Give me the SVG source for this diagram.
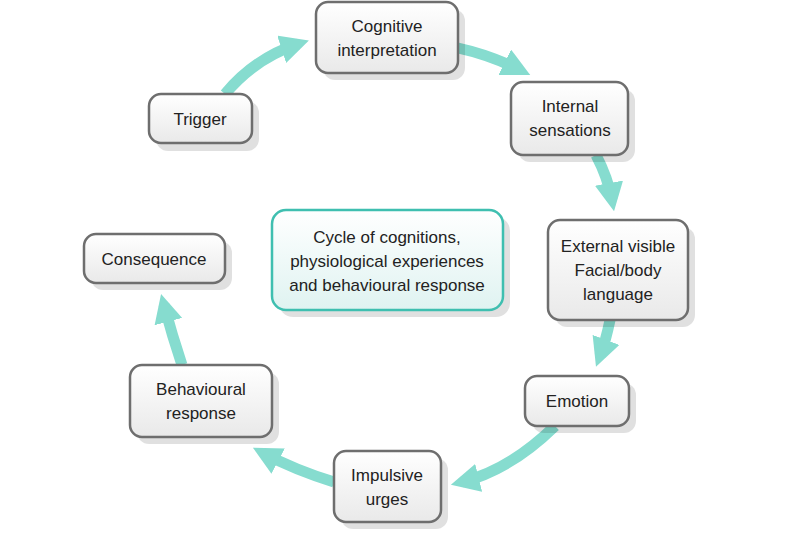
<svg xmlns="http://www.w3.org/2000/svg" width="800" height="533" viewBox="0 0 800 533">
<defs>
<linearGradient id="g" x1="0" y1="0" x2="0" y2="1"><stop offset="0" stop-color="#ffffff"/><stop offset="1" stop-color="#e9e9e9"/></linearGradient>
<linearGradient id="gc" x1="0" y1="0" x2="0" y2="1"><stop offset="0" stop-color="#ffffff"/><stop offset="1" stop-color="#dff3f1"/></linearGradient>
<marker id="ah" viewBox="0 0 10 10" refX="6" refY="5" markerWidth="2.6" markerHeight="2.6" orient="auto" markerUnits="strokeWidth"><path d="M0,0 L10,5 L0,10 Z" fill="#86dccf"/></marker>
</defs>
<style>
.sh{fill:#000;opacity:0.12}
.b{fill:url(#g);stroke:#6e6e6e;stroke-width:2.5}
.t{font-family:"Liberation Sans",Arial,sans-serif;font-size:17px;fill:#222;text-anchor:middle}
.c{fill:none;stroke:#86dccf;stroke-width:11}
</style>
<rect width="800" height="533" fill="#fff"/>
<g id="connectors">
<path class="c" d="M225,94 Q255,58 298,44" marker-end="url(#ah)"/>
<path class="c" d="M458,48 Q490,55 520,70" marker-end="url(#ah)"/>
<path class="c" d="M596,155 Q608,178 612,200" marker-end="url(#ah)"/>
<path class="c" d="M610,320 Q606,340 600,356" marker-end="url(#ah)"/>
<path class="c" d="M555,426 Q510,470 462,482" marker-end="url(#ah)"/>
<path class="c" d="M334,482 Q295,470 263,453" marker-end="url(#ah)"/>
<path class="c" d="M182,365 Q172,335 164,305" marker-end="url(#ah)"/>
</g>
<g id="center"><rect x="279" y="217" width="231" height="100" rx="14" class="sh"/><rect x="272" y="210" width="231" height="100" rx="14" fill="url(#gc)" stroke="#3fbfb0" stroke-width="2.5"/>
<text class="t" x="387" y="243">Cycle of cognitions,</text><text class="t" x="387" y="267">physiological experiences</text><text class="t" x="387" y="291">and behavioural response</text></g>
<g id="trigger"><rect x="156" y="101" width="103" height="50" rx="12" class="sh"/><rect x="149" y="94" width="103" height="49" rx="12" class="b"/><text class="t" x="200" y="125">Trigger</text></g>
<g id="cognitive"><rect x="323" y="9" width="142" height="71" rx="12" class="sh"/><rect x="316" y="2" width="142" height="71" rx="12" class="b"/><text class="t" x="387" y="32">Cognitive</text><text class="t" x="387" y="56">interpretation</text></g>
<g id="internal"><rect x="518" y="89" width="117" height="73" rx="12" class="sh"/><rect x="511" y="82" width="117" height="73" rx="12" class="b"/><text class="t" x="570" y="112">Internal</text><text class="t" x="570" y="136">sensations</text></g>
<g id="external"><rect x="555" y="227" width="140" height="100" rx="12" class="sh"/><rect x="548" y="220" width="140" height="100" rx="12" class="b"/><text class="t" x="618" y="252">External visible</text><text class="t" x="618" y="276">Facial/body</text><text class="t" x="618" y="300">language</text></g>
<g id="emotion"><rect x="532" y="383" width="104" height="50" rx="12" class="sh"/><rect x="525" y="376" width="104" height="50" rx="12" class="b"/><text class="t" x="577" y="407">Emotion</text></g>
<g id="impulsive"><rect x="341" y="458" width="107" height="71" rx="12" class="sh"/><rect x="334" y="451" width="107" height="71" rx="12" class="b"/><text class="t" x="387" y="481">Impulsive</text><text class="t" x="387" y="505">urges</text></g>
<g id="behavioural"><rect x="137" y="372" width="142" height="72" rx="12" class="sh"/><rect x="130" y="365" width="142" height="72" rx="12" class="b"/><text class="t" x="201" y="395">Behavioural</text><text class="t" x="201" y="419">response</text></g>
<g id="consequence"><rect x="91" y="241" width="141" height="49" rx="12" class="sh"/><rect x="84" y="234" width="141" height="49" rx="12" class="b"/><text class="t" x="154" y="265">Consequence</text></g>
</svg>
